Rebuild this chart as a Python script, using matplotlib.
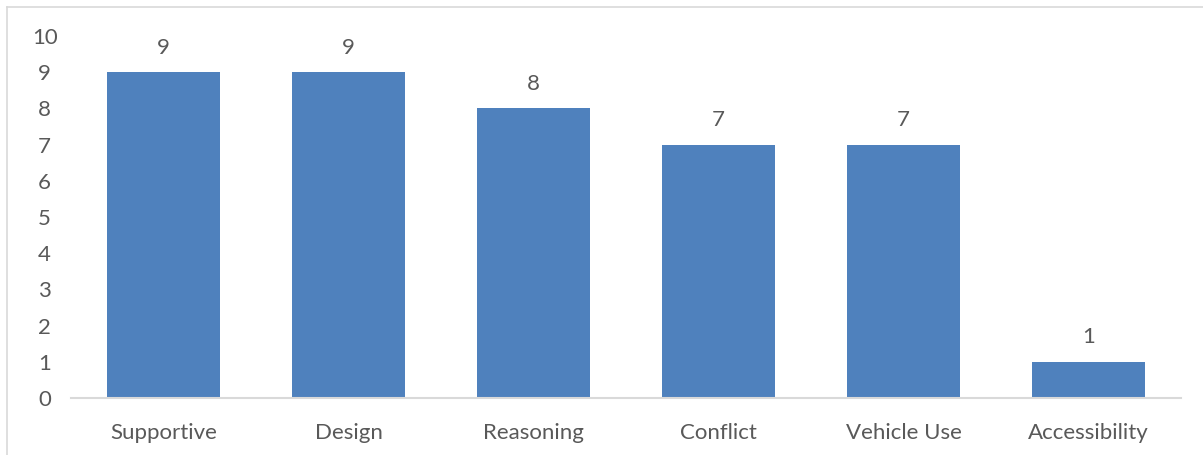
import matplotlib.pyplot as plt
from matplotlib.lines import Line2D
import numpy as np

categories = ['Supportive', 'Design', 'Reasoning', 'Conflict', 'Vehicle Use', 'Accessibility']
counts = [9, 9, 8, 7, 7, 1]

plt.rcParams['font.family'] = ['Lato', 'DejaVu Sans']

W, H = 1203, 455
fig = plt.figure(figsize=(W / 100, H / 100), dpi=100)
ax = fig.add_axes([71 / W, 1 - 398 / H, (1181 - 71) / W, (398 - 36) / H])

text_color = '#595959'
bar_color = '#4F81BD'

x = np.arange(len(categories))
bars = ax.bar(x, counts, width=0.61, color=bar_color, zorder=2)

for xi, v in zip(x, counts):
    ax.text(xi, v + 0.4, str(v), ha='center', va='bottom', fontsize=16, color=text_color)

ax.set_xlim(-0.5, len(categories) - 0.5)
ax.set_ylim(0, 10)
ax.set_yticks(range(0, 11))
ax.set_xticks(x)
ax.set_xticklabels(categories)
ax.tick_params(axis='both', length=0, labelsize=16, colors=text_color)
ax.tick_params(axis='x', pad=18)
ax.tick_params(axis='y', pad=19)
for lbl in ax.get_yticklabels():
    lbl.set_horizontalalignment('center')

for side in ['top', 'right', 'left']:
    ax.spines[side].set_visible(False)
ax.spines['bottom'].set_color('#D9D9D9')
ax.spines['bottom'].set_linewidth(1.5)

# light frame around the chart area (top and left edges)
fig.add_artist(Line2D([7 / W, 1], [1 - 7 / H, 1 - 7 / H], color='#D9D9D9', lw=1.2))
fig.add_artist(Line2D([7 / W, 7 / W], [0, 1 - 7 / H], color='#D9D9D9', lw=1.2))

fig.savefig('out.png', dpi=100)
